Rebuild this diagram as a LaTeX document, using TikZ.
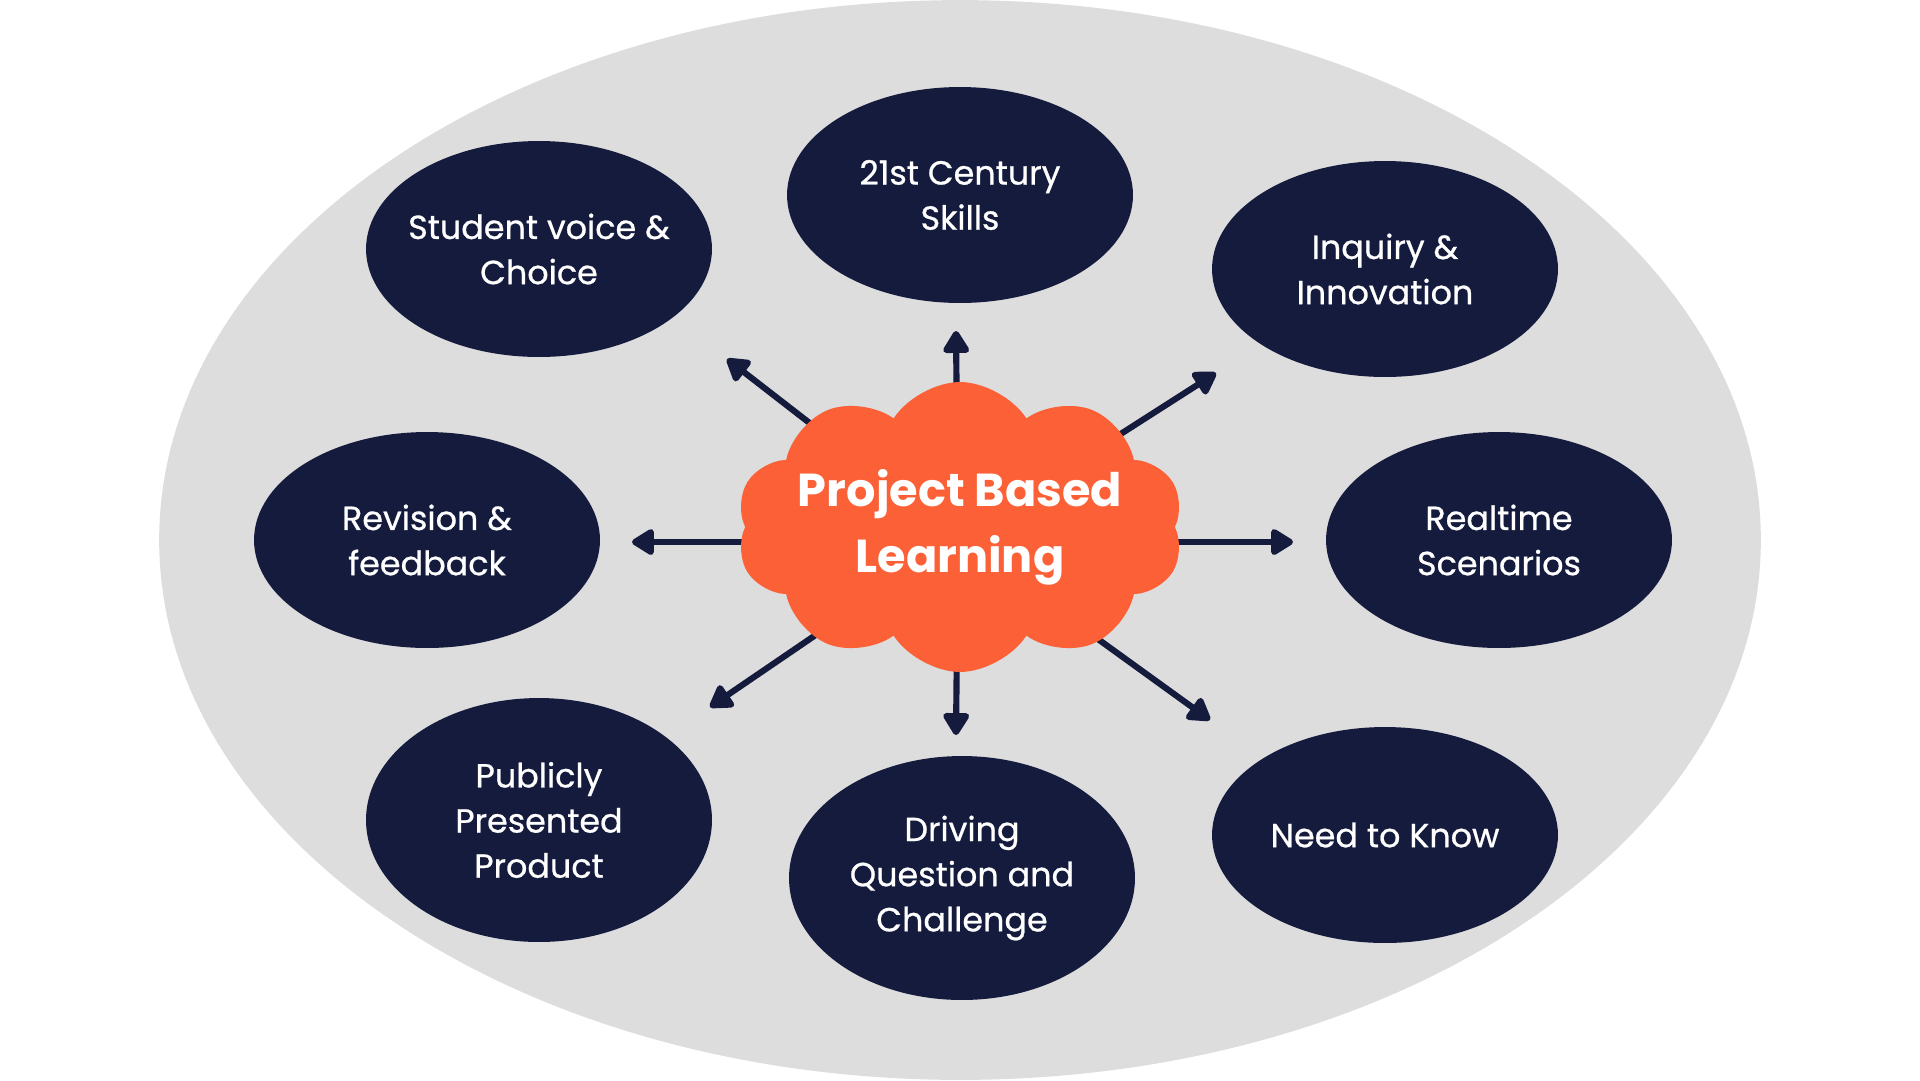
\documentclass[tikz,border=0pt]{standalone}
\usepackage{fontspec}
\setmainfont{Poppins}
\newfontfamily\labelfont{Poppins}[FakeBold=0.7]
\usetikzlibrary{shapes.geometric,shapes.symbols,arrows.meta}
\definecolor{navy}{RGB}{21,27,61}
\definecolor{flame}{RGB}{252,96,55}
\definecolor{haze}{RGB}{221,221,221}
\tikzset{
  topic/.style={ellipse, fill=navy, text=white, inner sep=0pt,
    inner xsep=-0.6cm, minimum width=6.92cm, minimum height=4.32cm,
    align=center, font=\labelfont\fontsize{19}{25.7}\selectfont},
  tall/.style={topic, minimum height=4.88cm},
  hub/.style={cloud, cloud puffs=10, cloud puff arc=115, cloud ignores aspect,
    fill=flame, text=white, inner xsep=-0.25cm, inner ysep=-0.55cm,
    align=center, minimum width=8.95cm, minimum height=5.8cm,
    font=\fontsize{26.3}{37.5}\selectfont\bfseries},
  spoke/.style={navy, line width=3.5pt,
    -{Triangle[length=0.5cm,width=0.58cm,round]}}
}
\begin{document}
\begin{tikzpicture}[x=0.02cm,y=-0.02cm]
      \useasboundingbox (0,0) rectangle (1920,1080);
      \fill[haze] (960,540) ellipse [x radius=16.02cm, y radius=10.8cm];
      % arrow tips
      \coordinate (c) at (958,538);
      \coordinate (tN) at (956,331);
      \coordinate (tNW) at (727,359);
      \coordinate (tNE) at (1216,373);
      \coordinate (tW) at (632,542);
      \coordinate (tE) at (1293,542);
      \coordinate (tSW) at (710,707);
      \coordinate (tS) at (956,735);
      \coordinate (tSE) at (1210,720);
      \begin{scope}[spoke]
        \draw (c) to (tN);
        \draw (c) to (tNW);
        \draw (c) to (tNE);
        \draw (tW -| c) to (tW);
        \draw (tE -| c) to (tE);
        \draw (c) to (tSW);
        \draw (c) to (tS);
        \draw (c) to (tSE);
      \end{scope}
      \node[hub] (pbl) at (960,527) {Project Based\\Learning};
      \draw
        (960,195) node[topic] (skills) {21st Century\\Skills}
        (539,249) node[topic] (voice) {Student voice \&\\Choice}
        (1385,269) node[topic] (inquiry) {Inquiry \&\\Innovation}
        (427,540) node[topic] (revision) {Revision \&\\feedback}
        (1499,540) node[topic] (realtime) {Realtime\\Scenarios}
        (539,820) node[tall] (product) {Publicly\\Presented\\Product}
        (962,878) node[tall] (driving) {Driving\\Question and\\Challenge}
        (1385,835) node[topic] (need) {Need to Know};
    \end{tikzpicture}
\end{document}
